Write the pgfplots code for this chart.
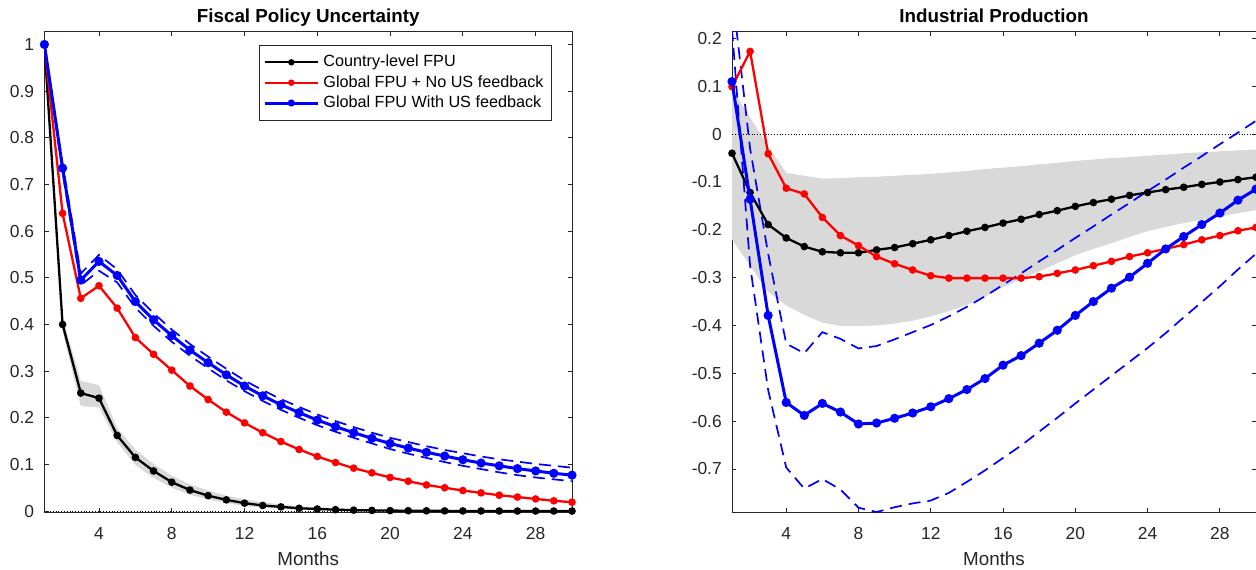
\documentclass[border=0pt]{standalone}
\usepackage{fontspec}
\setmainfont{Liberation Sans}
\usepackage{pgfplots}
\pgfplotsset{compat=1.18}
\usepackage{pgfplotstable}
\usepgfplotslibrary{fillbetween}

\definecolor{bandgray}{rgb}{0.85,0.85,0.85}
\definecolor{axgray}{rgb}{0.15,0.15,0.15}
\definecolor{mred}{rgb}{1,0,0}
\definecolor{mblue}{rgb}{0,0,1}

% Impulse responses of fiscal policy uncertainty
% cty: country-level FPU (band ctylo/ctyhi), nofb: global FPU without US feedback,
% fb: global FPU with US feedback (band fblo/fbhi)
\pgfplotstableread{
m cty ctylo ctyhi nofb fb fblo fbhi
1 1.000 1.000 1.000 1.000 1.000 1.000 1.000
2 0.400 0.385 0.415 0.638 0.735 0.726 0.744
3 0.253 0.225 0.279 0.456 0.495 0.484 0.509
4 0.242 0.222 0.270 0.483 0.535 0.515 0.549
5 0.162 0.147 0.178 0.435 0.505 0.490 0.518
6 0.115 0.099 0.132 0.372 0.449 0.436 0.463
7 0.086 0.071 0.101 0.336 0.410 0.397 0.424
8 0.062 0.050 0.076 0.302 0.376 0.363 0.389
9 0.045 0.035 0.057 0.268 0.345 0.333 0.358
10 0.033 0.025 0.044 0.239 0.318 0.306 0.331
11 0.024 0.017 0.033 0.212 0.292 0.280 0.305
12 0.017 0.011 0.025 0.189 0.268 0.257 0.280
13 0.012 0.007 0.019 0.168 0.247 0.236 0.259
14 0.009 0.005 0.014 0.149 0.228 0.217 0.240
15 0.006 0.003 0.010 0.132 0.211 0.200 0.223
16 0.0045 0.002 0.008 0.117 0.195 0.184 0.207
17 0.003 0.001 0.006 0.104 0.181 0.170 0.193
18 0.002 0.001 0.004 0.092 0.168 0.157 0.180
19 0.0015 0.0005 0.003 0.082 0.156 0.145 0.168
20 0.001 0.0003 0.002 0.072 0.145 0.133 0.157
21 0.0008 0.0002 0.0015 0.064 0.135 0.123 0.148
22 0.0006 0.0001 0.0012 0.056 0.126 0.114 0.139
23 0.0004 0.0001 0.0009 0.050 0.118 0.105 0.131
24 0.0003 0.0000 0.0007 0.044 0.110 0.097 0.124
25 0.0002 0.0000 0.0005 0.039 0.103 0.090 0.117
26 0.0002 0.0000 0.0004 0.034 0.097 0.083 0.111
27 0.0001 0.0000 0.0003 0.030 0.091 0.077 0.106
28 0.0001 0.0000 0.0002 0.026 0.086 0.072 0.101
29 0.0001 0.0000 0.0002 0.022 0.081 0.068 0.097
30 0.0001 0.0000 0.0001 0.019 0.077 0.064 0.093
}\fpu

% Impulse responses of industrial production
\pgfplotstableread{
m cty ctylo ctyhi nofb fb fblo fbhi
1 -0.040 -0.220 0.094 0.099 0.110 0.220 0.300
2 -0.122 -0.275 0.035 0.173 -0.136 -0.275 -0.030
3 -0.189 -0.330 -0.025 -0.041 -0.379 -0.535 -0.250
4 -0.217 -0.358 -0.081 -0.113 -0.561 -0.697 -0.438
5 -0.235 -0.378 -0.087 -0.125 -0.588 -0.741 -0.458
6 -0.246 -0.394 -0.093 -0.174 -0.563 -0.721 -0.414
7 -0.248 -0.401 -0.092 -0.212 -0.581 -0.743 -0.428
8 -0.248 -0.401 -0.090 -0.233 -0.606 -0.781 -0.448
9 -0.242 -0.400 -0.089 -0.256 -0.604 -0.790 -0.443
10 -0.237 -0.396 -0.087 -0.271 -0.594 -0.780 -0.429
11 -0.229 -0.390 -0.085 -0.284 -0.583 -0.772 -0.414
12 -0.221 -0.381 -0.083 -0.296 -0.570 -0.766 -0.399
13 -0.212 -0.370 -0.080 -0.301 -0.553 -0.750 -0.381
14 -0.203 -0.357 -0.077 -0.301 -0.534 -0.727 -0.361
15 -0.195 -0.340 -0.073 -0.301 -0.511 -0.703 -0.339
16 -0.186 -0.320 -0.070 -0.301 -0.483 -0.677 -0.315
17 -0.178 -0.303 -0.067 -0.301 -0.463 -0.651 -0.291
18 -0.168 -0.287 -0.063 -0.298 -0.437 -0.622 -0.266
19 -0.160 -0.270 -0.060 -0.291 -0.410 -0.593 -0.242
20 -0.151 -0.253 -0.056 -0.284 -0.379 -0.563 -0.217
21 -0.143 -0.240 -0.053 -0.275 -0.350 -0.534 -0.193
22 -0.136 -0.228 -0.050 -0.266 -0.322 -0.505 -0.168
23 -0.128 -0.215 -0.048 -0.256 -0.299 -0.476 -0.144
24 -0.122 -0.203 -0.045 -0.248 -0.270 -0.447 -0.119
25 -0.116 -0.194 -0.043 -0.240 -0.240 -0.416 -0.095
26 -0.111 -0.186 -0.040 -0.231 -0.214 -0.383 -0.070
27 -0.105 -0.179 -0.038 -0.221 -0.189 -0.351 -0.046
28 -0.100 -0.173 -0.036 -0.212 -0.165 -0.318 -0.021
29 -0.095 -0.165 -0.034 -0.202 -0.138 -0.283 0.003
30 -0.090 -0.159 -0.032 -0.195 -0.115 -0.250 0.028
}\ip

\pgfplotsset{
  irf/.style={
    scale only axis,
    xmin=1, xmax=30,
    xtick={4,8,12,16,20,24,28},
    tick align=inside,
    major tick length=2.2pt,
    axis line style={axgray, line width=0.4pt},
    tick style={axgray, line width=0.4pt},
    ticklabel style={font=\fontsize{8.7}{10}\selectfont, text=axgray},
    /pgf/number format/assume math mode=true,
    xticklabel style={anchor=base, yshift=-13.6pt},
    yticklabel style={xshift=-1.6pt},
    every axis title shift=0pt,
    title style={at={(axis description cs:0.5,1)}, anchor=base, yshift=4.4pt,
                 font=\bfseries\fontsize{9.4}{11}\selectfont},
    xlabel style={at={(axis description cs:0.5,0)}, anchor=base, yshift=-26.5pt,
                  font=\fontsize{9.4}{11}\selectfont, text=axgray},
    xlabel={Months},
    clip mode=individual,
  },
  ctyline/.style={black, line width=1.15pt, mark=*, mark size=1.3pt},
  nofbline/.style={mred, line width=1.15pt, mark=*, mark size=1.3pt},
  fbline/.style={mblue, line width=1.5pt, mark=*, mark size=1.5pt},
  fbband/.style={mblue, line width=0.85pt, dash pattern=on 6pt off 3.5pt},
}

\begin{document}
\begin{tikzpicture}

% ---------------- Fiscal policy uncertainty ----------------
\begin{axis}[irf,
  at={(22.2pt,28.5pt)}, anchor=south west,
  width=263.8pt, height=240.25pt,
  ymin=-0.002, ymax=1.0278,
  ytick={0,0.1,0.2,0.3,0.4,0.5,0.6,0.7,0.8,0.9,1},
  title={Fiscal Policy Uncertainty},
  legend style={at={(0.962,0.972)}, anchor=north east,
    draw=axgray, line width=0.4pt, fill=white,
    font=\fontsize{8.1}{10}\selectfont, text=black,
    inner xsep=2pt, inner ysep=2.8pt, row sep=-1.2pt,
    cells={anchor=west}},
  legend image code/.code={\draw[mark repeat=2,mark phase=2,#1,mark size=1pt]
    plot coordinates {(0pt,0pt) (13.3pt,0pt) (26.6pt,0pt)};},
]
\addplot[name path=clo, draw=none, forget plot] table[x=m, y=ctylo]{\fpu};
\addplot[name path=chi, draw=none, forget plot] table[x=m, y=ctyhi]{\fpu};
\addplot[bandgray, forget plot] fill between[of=clo and chi];
\addplot[black, densely dotted, line width=0.4pt, forget plot] coordinates {(1,0) (30,0)};
\addplot[fbband, forget plot] table[x=m, y=fblo]{\fpu};
\addplot[fbband, forget plot] table[x=m, y=fbhi]{\fpu};
\addplot[ctyline] table[x=m, y=cty]{\fpu};
\addlegendentry{Country-level FPU}
\addplot[nofbline] table[x=m, y=nofb]{\fpu};
\addlegendentry{Global FPU + No US feedback}
\addplot[fbline] table[x=m, y=fb]{\fpu};
\addlegendentry{Global FPU With US feedback}
\end{axis}

% ---------------- Industrial production ----------------
\begin{axis}[irf,
  at={(366pt,28.5pt)}, anchor=south west,
  width=262pt, height=240.25pt,
  ymin=-0.79, ymax=0.2146,
  ytick={-0.7,-0.6,-0.5,-0.4,-0.3,-0.2,-0.1,0,0.1,0.2},
  title={Industrial Production},
]
\addplot[name path=clo, draw=none, forget plot] table[x=m, y=ctylo]{\ip};
\addplot[name path=chi, draw=none, forget plot] table[x=m, y=ctyhi]{\ip};
\addplot[bandgray, forget plot] fill between[of=clo and chi];
\addplot[black, densely dotted, line width=0.4pt, forget plot] coordinates {(1,0) (30,0)};
\addplot[fbband, forget plot] table[x=m, y=fblo]{\ip};
\addplot[fbband, forget plot] table[x=m, y=fbhi]{\ip};
\addplot[ctyline] table[x=m, y=cty]{\ip};
\addplot[nofbline] table[x=m, y=nofb]{\ip};
\addplot[fbline] table[x=m, y=fb]{\ip};
\end{axis}

% page frame
\pgfresetboundingbox
\path[use as bounding box] (0,0) rectangle (628pt,284.5pt);
\end{tikzpicture}
\end{document}
